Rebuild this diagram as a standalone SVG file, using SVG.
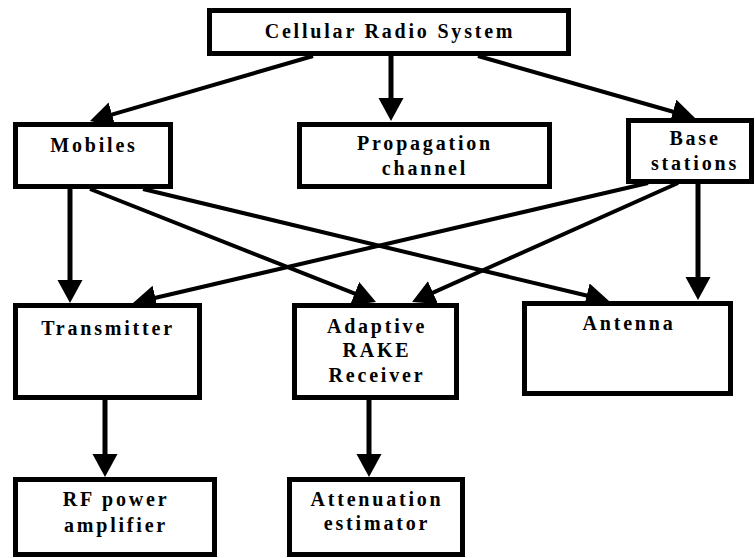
<svg xmlns="http://www.w3.org/2000/svg" width="756" height="558" viewBox="0 0 756 558">
<style>
  .box { fill: #ffffff; stroke: #000000; stroke-width: 5; }
  .lbl { font-family: "Liberation Serif", "Times New Roman", serif; font-weight: bold; font-size: 20px; letter-spacing: 2.8px; text-anchor: middle; fill: #000000; }
  .ln { stroke: #000000; stroke-width: 4; fill: none; marker-end: url(#ah); }
  .lv { stroke: #000000; stroke-width: 5; fill: none; marker-end: url(#ah); }
</style>
<defs>
  <marker id="ah" markerUnits="userSpaceOnUse" markerWidth="24" markerHeight="26" refX="3" refY="12.5" orient="auto">
    <path d="M0,0 L23,12.5 L0,25 z" fill="#000000"/>
  </marker>
</defs>
<rect width="756" height="558" fill="#ffffff"/>
<g id="connectors">
  <line class="ln" x1="313" y1="56" x2="109.2" y2="115.4"/>
  <line class="lv" x1="391" y1="56" x2="391" y2="101"/>
  <line class="ln" x1="478" y1="56" x2="675.8" y2="112.5"/>
  <line class="lv" x1="70" y1="189" x2="70" y2="283"/>
  <line class="ln" x1="90" y1="189" x2="357.4" y2="294.7"/>
  <line class="ln" x1="143" y1="189" x2="589.6" y2="296.3"/>
  <line class="ln" x1="648" y1="183" x2="152.5" y2="298.5"/>
  <line class="ln" x1="678" y1="183" x2="430.3" y2="293.8"/>
  <line class="lv" x1="698" y1="183" x2="698" y2="280"/>
  <line class="lv" x1="105" y1="400" x2="105" y2="457"/>
  <line class="lv" x1="369" y1="400" x2="369" y2="457"/>
</g>
<g id="cellular">
  <rect class="box" x="209.5" y="10.5" width="359" height="43"/>
  <text class="lbl" x="390" y="38">Cellular Radio System</text>
</g>
<g id="mobiles">
  <rect class="box" x="15.5" y="124.5" width="155" height="62"/>
  <text class="lbl" x="94" y="152">Mobiles</text>
</g>
<g id="propagation">
  <rect class="box" x="299.5" y="124.5" width="250" height="62"/>
  <text class="lbl" x="425" y="150">Propagation</text>
  <text class="lbl" x="425" y="175">channel</text>
</g>
<g id="base">
  <rect class="box" x="628.5" y="120.5" width="123" height="61"/>
  <text class="lbl" x="695" y="145">Base</text>
  <text class="lbl" x="695" y="170">stations</text>
</g>
<g id="transmitter">
  <rect class="box" x="15.5" y="305.5" width="184" height="92"/>
  <text class="lbl" x="108" y="335">Transmitter</text>
</g>
<g id="rake">
  <rect class="box" x="294.5" y="305.5" width="162" height="92"/>
  <text class="lbl" x="377" y="333">Adaptive</text>
  <text class="lbl" x="377" y="357">RAKE</text>
  <text class="lbl" x="377" y="382">Receiver</text>
</g>
<g id="antenna">
  <rect class="box" x="524.5" y="303.5" width="206" height="90"/>
  <text class="lbl" x="629" y="330">Antenna</text>
</g>
<g id="rfpa">
  <rect class="box" x="15.5" y="479.5" width="199" height="75"/>
  <text class="lbl" x="116" y="506">RF power</text>
  <text class="lbl" x="116" y="532">amplifier</text>
</g>
<g id="atten">
  <rect class="box" x="289.5" y="479.5" width="173" height="75"/>
  <text class="lbl" x="377" y="506">Attenuation</text>
  <text class="lbl" x="377" y="530">estimator</text>
</g>
</svg>
